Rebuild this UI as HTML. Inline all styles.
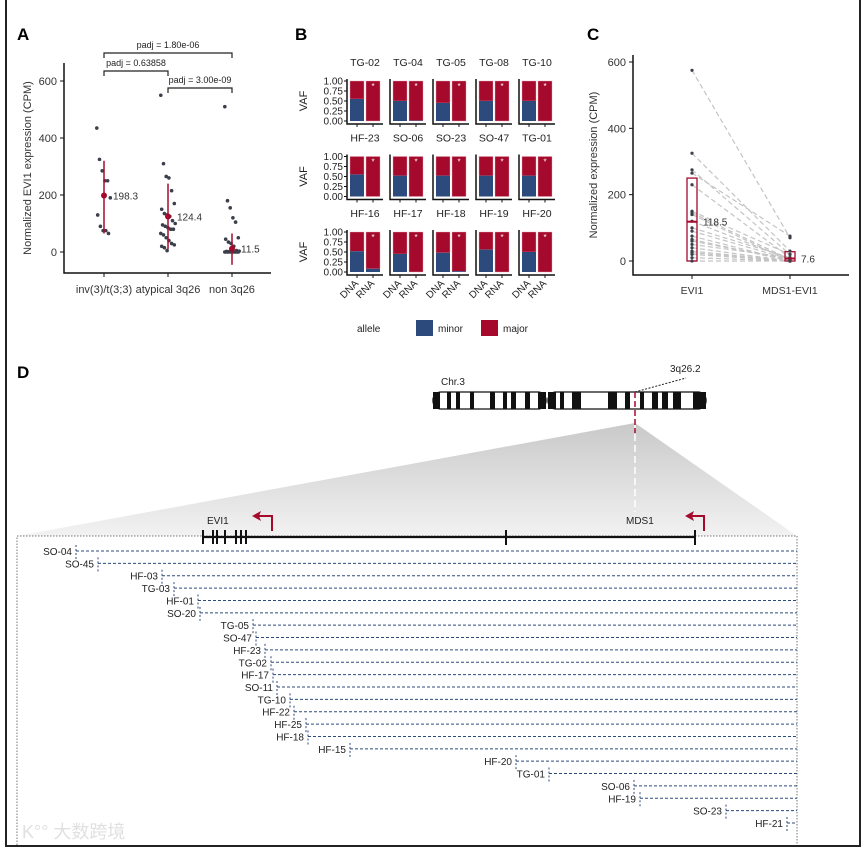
<!DOCTYPE html>
<html><head><meta charset="utf-8"><style>
body{margin:0;background:#fff}
svg{display:block;font-family:"Liberation Sans","Noto Sans CJK SC",sans-serif}
</style></head><body>
<svg id="s" width="865" height="849" viewBox="0 0 865 849" xmlns="http://www.w3.org/2000/svg">
<defs><linearGradient id="gg" x1="0" y1="0" x2="0" y2="1"><stop offset="0" stop-color="#c9c9c9"/><stop offset="1" stop-color="#f2f2f2"/></linearGradient></defs>
<path d="M6 0V846H860V0" fill="none" stroke="#222" stroke-width="2"/>
<g font-weight="bold" font-size="17">
<text x="17" y="40">A</text>
<text x="295" y="40">B</text>
<text x="587" y="40">C</text>
<text x="17" y="378">D</text>
</g>
<g id="A"></g>
<g id="B"></g>
<g id="C"></g>
<g id="D"></g>
<text x="22" y="838" font-size="18" fill="#ccc" opacity="0.6">K°° 大数跨境</text>
</svg>
<script>
const NS="http://www.w3.org/2000/svg";
function mk(p,t,a,txt){const e=document.createElementNS(NS,t);for(const k in a)e.setAttribute(k,a[k]);if(txt!==undefined)e.textContent=txt;p.appendChild(e);return e;}
const RED="#a50a2d",BLUE="#2d4a7c",PT="#3a3f4a";

// ---------- Panel A data ----------
const aCategories=["inv(3)/t(3;3)","atypical 3q26","non 3q26"];
const aGroup1=[435,325,285,250,250,190,130,90,75,75,65];
const aGroup2=[550,310,265,260,215,170,150,135,130,125,110,100,95,90,85,80,80,65,60,50,40,30,25,20,15,5];
const aGroup3=[510,180,155,120,105,50,45,35,30,20,5,3,2,1,0,0,0,0,0,0,0,0,0,0,0];
const aCenters=[198.3,124.4,11.5];
const aRangeLo=[65,10,-45];
const aRangeHi=[320,240,65];
const aYTicks=[0,200,400,600];
const aPadj=["padj = 1.80e-06","padj = 0.63858","padj = 3.00e-09"];
(function(){
const g=document.getElementById('A');
const y=v=>252-v*171/600, x=i=>104+i*64;
mk(g,'path',{d:'M64 63V273H271',fill:'none',stroke:'#111','stroke-width':1.5});
aYTicks.forEach(t=>{mk(g,'line',{x1:60,x2:64,y1:y(t),y2:y(t),stroke:'#111'});
 const e=mk(g,'text',{x:57,y:y(t)+4,'font-size':11,'text-anchor':'end',fill:'#333'},t);});
const yt=mk(g,'text',{transform:'translate(31,168) rotate(-90)','font-size':11,'text-anchor':'middle',fill:'#333'},'Normalized EVI1 expression (CPM)');

aCategories.forEach((c,i)=>{mk(g,'line',{x1:x(i),x2:x(i),y1:273,y2:277,stroke:'#111'});
 const e=mk(g,'text',{x:x(i),y:293,'font-size':11,'text-anchor':'middle',fill:'#333'},c);});
[aGroup1,aGroup2,aGroup3].forEach((grp,i)=>{
 grp.forEach((v,j)=>{const off=((j*37)%17-8)*0.9;const c=mk(g,'circle',{cx:x(i)+off,cy:y(v),r:1.8,fill:PT});
  });
 const l=mk(g,'line',{x1:x(i),x2:x(i),y1:y(aRangeLo[i]),y2:y(aRangeHi[i]),stroke:RED,'stroke-width':1.5});
 
 const c=mk(g,'circle',{cx:x(i),cy:y(aCenters[i]),r:3,fill:RED});
 const t=mk(g,'text',{x:x(i)+9,y:y(aCenters[i])+4,'font-size':10,fill:'#333'},aCenters[i].toFixed(1));
});
[[0,2,53],[0,1,71],[1,2,88]].forEach((b,k)=>{
 mk(g,'path',{d:`M${x(b[0])} ${b[2]+5}V${b[2]}H${x(b[1])}V${b[2]+5}`,fill:'none',stroke:'#222','stroke-width':1.2});
 const t=mk(g,'text',{x:(x(b[0])+x(b[1]))/2,y:b[2]-5,'font-size':9,'text-anchor':'middle',fill:'#222'},aPadj[k]);
 });
})();

// ---------- Panel B data ----------
const bSamples=["TG-02","TG-04","TG-05","TG-08","TG-10","HF-23","SO-06","SO-23","SO-47","TG-01","HF-16","HF-17","HF-18","HF-19","HF-20"];
const bDnaMinor=[0.55,0.50,0.45,0.50,0.50,0.55,0.52,0.52,0.52,0.52,0.52,0.45,0.48,0.56,0.50];
const bRnaMinor=[0,0.01,0,0,0,0,0,0,0,0,0.08,0,0.02,0,0];
const bYTicks=[0,0.25,0.5,0.75,1];
(function(){
const g=document.getElementById('B');
for(let k=0;k<bSamples.length;k++){
 const col=k%5,row=Math.floor(k/5);const ax=347+col*43,tt=66+row*75.5;
 const y=v=>tt+55-v*40;
 const t=mk(g,'text',{x:ax+18,y:tt,'font-size':10.5,'text-anchor':'middle',fill:'#222'},bSamples[k]);
 
 [[ax+3,bDnaMinor[k]],[ax+19,bRnaMinor[k]]].forEach((b,j)=>{
  const r1=mk(g,'rect',{x:b[0],y:y(1),width:14,height:y(b[1])-y(1),fill:RED,stroke:'#e8a0b0','stroke-width':0.4});
  
  const r2=mk(g,'rect',{x:b[0],y:y(b[1]),width:14,height:y(0)-y(b[1]),fill:BLUE});
  
  mk(g,'line',{x1:b[0]+7,x2:b[0]+7,y1:y(0)+3,y2:y(0)+6,stroke:'#111'});
 });
 mk(g,'text',{x:ax+26,y:y(0.9)+4,'font-size':8,'text-anchor':'middle',fill:'#fff'},'*');
 mk(g,'path',{d:`M${ax} ${y(1)-2}V${y(0)+3}H${ax+36}`,fill:'none',stroke:'#111','stroke-width':1.5});
 if(col===0){bYTicks.forEach(v=>{mk(g,'line',{x1:ax-3,x2:ax,y1:y(v),y2:y(v),stroke:'#111'});
  const e=mk(g,'text',{x:ax-4,y:y(v)+3.5,'font-size':10,'text-anchor':'end',fill:'#222'},v.toFixed(2));});
  const v=mk(g,'text',{transform:`translate(${ax-40},${y(0.5)}) rotate(-90)`,'font-size':11,'text-anchor':'middle',fill:'#222'},'VAF');}
 if(row===2){['DNA','RNA'].forEach((s,j)=>{const e=mk(g,'text',{transform:`translate(${ax+12+j*16},${y(0)+12}) rotate(-45)`,'font-size':10,'text-anchor':'end',fill:'#222'},s);});}
}
const L=mk(g,'g',{});
mk(L,'text',{x:357,y:332,'font-size':10,fill:'#222'},'allele');
mk(L,'rect',{x:416,y:320,width:17,height:16,fill:BLUE});mk(L,'text',{x:438,y:332,'font-size':10,fill:'#222'},'minor');
mk(L,'rect',{x:481,y:320,width:17,height:16,fill:RED});mk(L,'text',{x:503,y:332,'font-size':10,fill:'#222'},'major');
})();

// ---------- Panel C data ----------
const cCategories=["EVI1","MDS1-EVI1"];
const cEvi1=[575,325,275,265,230,150,145,140,120,100,90,75,65,60,50,40,30,25,20,10,0];
const cMds1=[70,30,20,75,10,20,5,0,5,10,5,0,0,5,10,0,0,0,0,0,0];
const cMedians=[118.5,7.6];
const cBoxHi=[250,28];
const cBoxLo=[0,0];
const cYTicks=[0,200,400,600];
(function(){
const g=document.getElementById('C');
const y=v=>261-v*199/600, x=i=>692+i*98;
mk(g,'path',{d:'M633 55V275H849',fill:'none',stroke:'#111','stroke-width':1.5});
cYTicks.forEach(t=>{mk(g,'line',{x1:629,x2:633,y1:y(t),y2:y(t),stroke:'#111'});
 const e=mk(g,'text',{x:626,y:y(t)+4,'font-size':11,'text-anchor':'end',fill:'#333'},t);});
const yt=mk(g,'text',{transform:'translate(597,165) rotate(-90)','font-size':11,'text-anchor':'middle',fill:'#333'},'Normalized expression (CPM)');

cCategories.forEach((c,i)=>{mk(g,'line',{x1:x(i),x2:x(i),y1:275,y2:279,stroke:'#111'});
 const e=mk(g,'text',{x:x(i),y:294,'font-size':10.5,'text-anchor':'middle',fill:'#333'},c);});
cEvi1.forEach((v,j)=>{const l=mk(g,'line',{x1:x(0),y1:y(v),x2:x(1),y2:y(cMds1[j]),stroke:'#c4c4c4','stroke-dasharray':'5,3','stroke-width':1.2});
 });
[cEvi1,cMds1].forEach((arr,i)=>{
 const b=mk(g,'rect',{x:x(i)-5,y:y(cBoxHi[i]),width:10,height:y(cBoxLo[i])-y(cBoxHi[i]),fill:'none',stroke:RED,'stroke-width':1.3});
 
 arr.forEach(v=>{const c=mk(g,'circle',{cx:x(i),cy:y(v),r:1.6,fill:PT});});
 mk(g,'line',{x1:x(i)-5,x2:x(i)+5,y1:y(cMedians[i]),y2:y(cMedians[i]),stroke:RED,'stroke-width':2});
 const t=mk(g,'text',{x:x(i)+11,y:y(cMedians[i])+4,'font-size':10,fill:'#333'},cMedians[i].toFixed(1));
});
})();

// ---------- Panel D data ----------
const dSamples=["SO-04","SO-45","HF-03","TG-03","HF-01","SO-20","TG-05","SO-47","HF-23","TG-02","HF-17","SO-11","TG-10","HF-22","HF-25","HF-18","HF-15","HF-20","TG-01","SO-06","HF-19","SO-23","HF-21"];
const dBreakpoints=[76,98,162,174,198,200,253,256,265,271,273,277,290,294,306,308,350,516,549,634,640,726,787];
const dExons=[203,213,217,225,236,241,246];
(function(){
const g=document.getElementById('D');
mk(g,'polygon',{points:'635,423 17,536 797,536',fill:'url(#gg)'});
mk(g,'line',{x1:635,x2:635,y1:423,y2:512,stroke:'#fff','stroke-width':1.5,'stroke-dasharray':'7,4'});
const ch=mk(g,'g',{});
mk(ch,'rect',{x:433,y:392,width:113,height:17,rx:8,fill:'#fff',stroke:'#111','stroke-width':1.3});
mk(ch,'rect',{x:548,y:392,width:158,height:17,rx:8,fill:'#fff',stroke:'#111','stroke-width':1.3});
[[433,7],[447,4],[456,4],[470,4],[490,5],[503,4],[511,5],[525,5],[538,8],[548,8],[560,4],[572,9],[608,9],[625,5],[640,4],[652,6],[662,6],[673,8],[693,13]].forEach(b=>mk(ch,'rect',{x:b[0],y:392,width:b[1],height:17,fill:'#111'}));
mk(ch,'line',{x1:635,x2:635,y1:392,y2:433,stroke:RED,'stroke-width':1.5,'stroke-dasharray':'6,3'});
mk(g,'text',{x:441,y:385,'font-size':10,fill:'#222'},'Chr.3');
mk(g,'text',{x:670,y:372,'font-size':10,fill:'#222'},'3q26.2');
mk(g,'line',{x1:635,y1:392,x2:686,y2:378,stroke:'#222','stroke-dasharray':'2,1.5'});
mk(g,'path',{d:'M17 845V536H797V845',fill:'none',stroke:'#777','stroke-dasharray':'1.5,1.5'});
const gl=mk(g,'g',{});
mk(gl,'line',{x1:202,x2:695,y1:537,y2:537,stroke:'#111','stroke-width':2.2});
dExons.forEach(e=>mk(gl,'line',{x1:e,x2:e,y1:530,y2:544,stroke:'#111','stroke-width':2}));
[506,695].forEach(e=>mk(gl,'line',{x1:e,x2:e,y1:530,y2:545,stroke:'#111','stroke-width':2}));
mk(g,'text',{x:207,y:524,'font-size':10,fill:'#222'},'EVI1');
mk(g,'text',{x:626,y:524,'font-size':10,fill:'#222'},'MDS1');
[[272,516,252],[704,516,685]].forEach(a=>{
 mk(g,'path',{d:`M${a[0]} ${a[1]+15}V${a[1]}H${a[2]+4}`,fill:'none',stroke:RED,'stroke-width':2});
 mk(g,'polygon',{points:`${a[2]},${a[1]} ${a[2]+9},${a[1]-5} ${a[2]+7},${a[1]} ${a[2]+9},${a[1]+5}`,fill:RED});
});
const yTop=551,yBot=823;
dSamples.forEach((s,i)=>{
 const yy=yTop+i*(yBot-yTop)/(dSamples.length-1), bx=dBreakpoints[i];
 const l=mk(g,'line',{x1:bx,x2:797,y1:yy,y2:yy,stroke:BLUE,'stroke-dasharray':'3,2','stroke-width':1});
 
 mk(g,'line',{x1:bx,x2:bx,y1:yy-6,y2:yy+8,stroke:BLUE,'stroke-dasharray':'2,2','stroke-width':1});
 const t=mk(g,'text',{x:bx-4,y:yy+4,'font-size':10,'text-anchor':'end',fill:'#222'},s);
 
});
})();
</script>
</body></html>
